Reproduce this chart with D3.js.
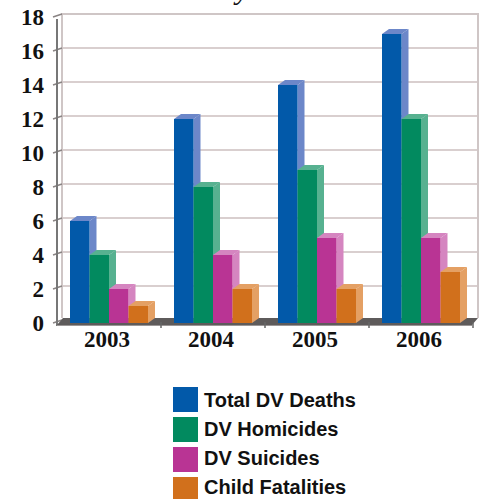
<!DOCTYPE html>
<html><head><meta charset="utf-8">
<script src="https://cdn.jsdelivr.net/npm/d3@7/dist/d3.min.js"></script>
<style>body{margin:0;background:#fff}svg{display:block}</style>
</head><body>
<script>
const years = ["2003","2004","2005","2006"];
const seriesNames = ["Total DV Deaths","DV Homicides","DV Suicides","Child Fatalities"];
const totalDV = [6,12,14,17];
const homicides = [4,8,9,12];
const suicides = [2,4,5,5];
const childFatal = [1,2,2,3];
const yTicks = [0,2,4,6,8,10,12,14,16,18];
const titleText = "Domestic Violence Deaths by Year";

const seriesValues = [totalDV, homicides, suicides, childFatal];
const frontColors = ["#0259a9","#028a5f","#b93494","#d1701c"];
const sideColors = ["#6c87c9","#57b190","#d585c0","#e4a064"];

const W = 485, H = 499;
const svg = d3.select("body").append("svg").attr("width", W).attr("height", H);

const y = d3.scaleLinear().domain([0,18]).range([323,17]);
const x0 = d3.scaleBand().domain(years).range([57,473]).paddingInner(0.25).paddingOuter(0.125);
const x1 = d3.scaleBand().domain(d3.range(4)).range([0, x0.bandwidth()]);
const dx = 7, dy = 5;

// title (cut off at the top edge, only the descender shows)
const t = svg.append("text").attr("y", -1).attr("font-family","Liberation Serif, serif")
  .attr("font-size", 30).attr("font-style","italic").attr("fill","#111").text(titleText);
const idx = titleText.indexOf("by") + 1;
const px = t.node().getStartPositionOfChar(idx).x;
t.attr("x", 236 - px);

// back wall
const wallL = 62, wallR = 478;
svg.append("g").selectAll("line").data(yTicks.filter(d=>d>0)).join("line")
  .attr("x1", wallL).attr("x2", wallR)
  .attr("y1", d=>y(d)-3).attr("y2", d=>y(d)-3)
  .attr("stroke","#d9cfcf").attr("stroke-width",2);
svg.append("path").attr("d", `M${wallL},318 L${wallL},${y(18)-3} L${wallR},${y(18)-3} L${wallR},318`)
  .attr("fill","none").attr("stroke","#cfc6c6").attr("stroke-width",2);
// ticks connecting axis to wall
svg.append("g").selectAll("line").data(yTicks).join("line")
  .attr("x1", 53).attr("x2", wallL).attr("y1", d=>y(d)).attr("y2", d=>y(d)-3)
  .attr("stroke","#8a8484").attr("stroke-width",1.5);
// front axis line
svg.append("line").attr("x1",57).attr("x2",57).attr("y1",y(18)+2).attr("y2",326)
  .attr("stroke","#777").attr("stroke-width",2);

// floor
svg.append("path").attr("d", `M57,325 L63,318 L${wallR},318 L${wallR-6},325 Z`).attr("fill","#5e5b5b");
svg.append("line").attr("x1",57).attr("x2",wallR-6).attr("y1",325.5).attr("y2",325.5)
  .attr("stroke","#9a9696").attr("stroke-width",1);
// floor ticks at category boundaries
const bounds = years.map(yr => x0(yr) + x0.bandwidth() + x0.step()*x0.paddingInner()/2);
svg.append("g").selectAll("line").data(bounds).join("line")
  .attr("x1", d=>d).attr("x2", d=>d).attr("y1", 322).attr("y2", 328)
  .attr("stroke","#666").attr("stroke-width",1.5);

// y labels
svg.append("g").selectAll("text").data(yTicks).join("text")
  .attr("x", 44).attr("y", d=>y(d)).attr("dy","0.35em").attr("text-anchor","end")
  .attr("font-family","Liberation Serif, serif").attr("font-weight","bold").attr("font-size",23)
  .attr("fill","#111").text(d=>d);

// bars
const groups = svg.append("g").selectAll("g").data(years).join("g")
  .attr("transform", d=>`translate(${x0(d)},0)`);
groups.each(function(yr, i){
  const g = d3.select(this);
  seriesValues.forEach((vals, s) => {
    const v = vals[i];
    const xl = x1(s), w = x1.bandwidth(), yt = y(v), yb = y(0);
    g.append("path").attr("d", `M${xl},${yt} L${xl+dx},${yt-dy} L${xl+w+dx},${yt-dy} L${xl+w},${yt} Z`)
      .attr("fill", sideColors[s]);
    g.append("path").attr("d", `M${xl+w},${yt} L${xl+w+dx},${yt-dy} L${xl+w+dx},${yb-dy} L${xl+w},${yb} Z`)
      .attr("fill", sideColors[s]);
    g.append("rect").attr("x", xl).attr("y", yt).attr("width", w).attr("height", yb-yt)
      .attr("fill", frontColors[s]);
  });
});

// x labels
svg.append("g").selectAll("text").data(years).join("text")
  .attr("x", d=>x0(d)+x0.bandwidth()/2-2).attr("y", 347)
  .attr("text-anchor","middle").attr("font-family","Liberation Serif, serif")
  .attr("font-weight","bold").attr("font-size",23).attr("fill","#111").text(d=>d);

// legend
const lg = svg.append("g").selectAll("g").data(seriesNames).join("g");
lg.append("rect").attr("x",173).attr("y",(d,i)=>387+i*30).attr("width",25).attr("height",25)
  .attr("fill",(d,i)=>frontColors[i]);
lg.append("text").attr("x",204).attr("y",(d,i)=>407+i*29).attr("font-family","Liberation Sans, Arial, sans-serif")
  .attr("font-weight","bold").attr("font-size",20).attr("fill","#111").text(d=>d);
</script>
</body></html>
